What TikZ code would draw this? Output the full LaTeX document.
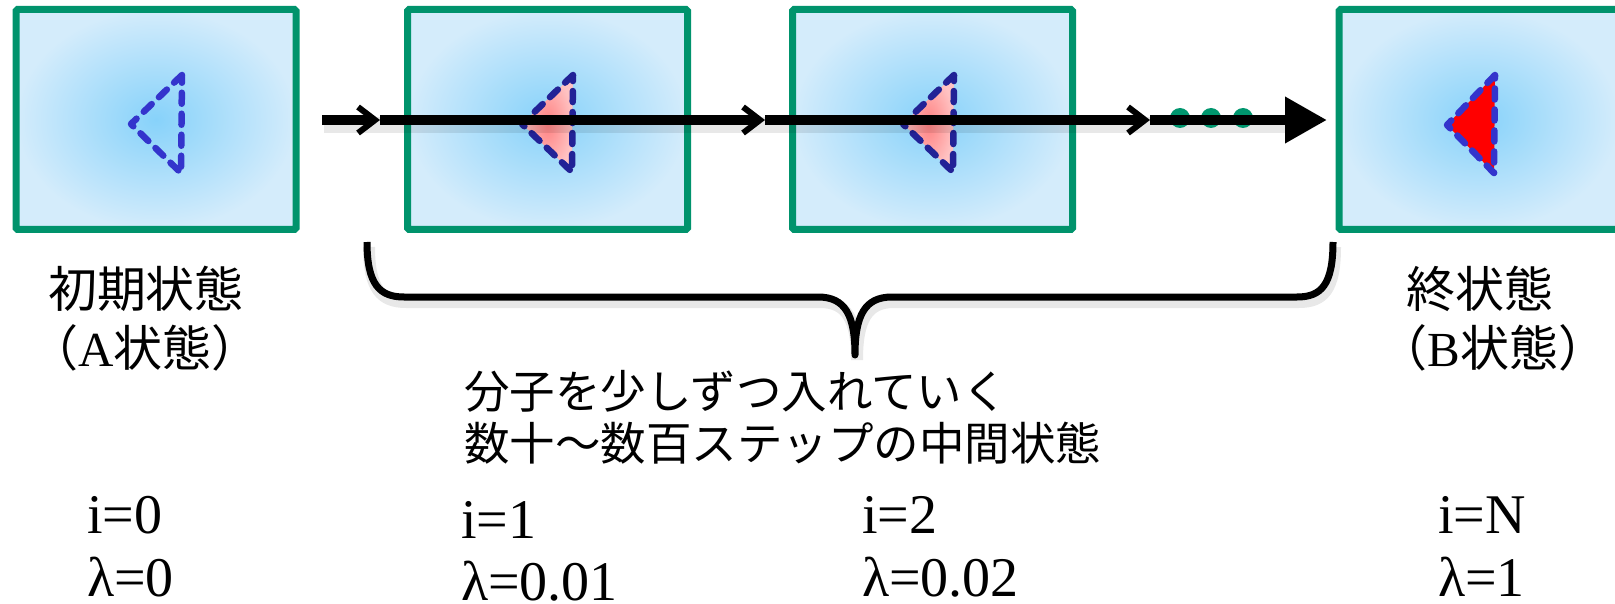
\documentclass[tikz,border=0pt]{standalone}
\usepackage{fontspec}
\setmainfont{Liberation Serif}
\newfontfamily\cjk{Noto Sans CJK JP}
\usetikzlibrary{arrows.meta}
\definecolor{boxgreen}{RGB}{0,147,108}
\definecolor{boxin}{RGB}{135,210,250}
\definecolor{boxout}{RGB}{212,236,251}
\definecolor{triblue}{RGB}{52,52,204}
\definecolor{trinavy}{RGB}{34,34,150}
\definecolor{pinkin}{RGB}{255,130,130}
\definecolor{pinkout}{RGB}{255,195,195}
\definecolor{dotgreen}{RGB}{0,150,110}
\tikzset{
  statebox/.style={draw=boxgreen, line width=7pt, inner color=boxin, outer color=boxout,
    minimum width=280pt, minimum height=220pt, inner sep=0pt, rounded corners=1.5pt},
  tri/.style={line width=6.5pt, dash pattern=on 11pt off 10pt, line join=round, line cap=round},
  flow/.style={line width=10pt, draw=black},
  barb/.style={-{Straight Barb[length=17pt,width=26pt,line width=6pt]}},
  shadowline/.style={draw=black, opacity=0.09, line width=16pt, transform canvas={shift={(2,5)}}},
  jplabel/.style={font=\cjk\fontsize{49}{58}\selectfont, inner sep=0pt},
  jptext/.style={font=\cjk\fontsize{45.5}{52}\selectfont, inner sep=0pt, anchor=west},
  num/.style={font=\fontsize{56}{64}\selectfont, inner sep=0pt, anchor=base west},
}
\begin{document}
\begin{tikzpicture}[x=1pt,y=-1pt]
\useasboundingbox (0,0) rectangle (1615,604);
\clip (0,0) rectangle (1615,604);

% boxes
\node[statebox] (b1) at (156,119.5) {};
\node[statebox] (b2) at (547.5,119.5) {};
\node[statebox] (b3) at (932.5,119.5) {};
\node[statebox] (b4) at (1479,119.5) {};

% triangles
\draw[tri, draw=triblue] (182,75) -- (131,124) -- (181,173) -- cycle;
\shade[inner color=pinkin, outer color=pinkout] (573,75) -- (522,124) -- (572,172) -- cycle;
\draw[tri, draw=trinavy] (573,75) -- (522,124) -- (572,172) -- cycle;
\shade[inner color=pinkin, outer color=pinkout] (954,75) -- (903,124) -- (953,172) -- cycle;
\draw[tri, draw=trinavy] (954,75) -- (903,124) -- (953,172) -- cycle;
\fill[red] (1495,75) -- (1447,125) -- (1494,173) -- cycle;
\draw[tri, draw=triblue] (1495,75) -- (1447,125) -- (1494,173) -- cycle;

% arrow
\coordinate (a0) at (322,120);
\coordinate (a1) at (380,120);
\coordinate (a2) at (765,120);
\coordinate (a3) at (1150,120);
\coordinate (a4) at (1327,120);
\draw[shadowline] (a0) -- (1290,120);
\fill[dotgreen] (1180,118) circle (10);
\fill[dotgreen] (1211,118) circle (10);
\fill[dotgreen] (1243,118) circle (10);
\draw[flow, barb] (a0) -- (a1);
\draw[flow, barb] (a1) -- (a2);
\draw[flow, barb] (a2) -- (a3);
\draw[flow, -{Triangle[length=42pt,width=44pt]}] (a3) -- (a4);

% brace
\coordinate (bl) at (367,242);
\coordinate (bm) at (855,355);
\coordinate (br) at (1333,242);
\draw[shadowline, line width=12pt]
  (bl) .. controls (367,285) and (380,297) .. (404,297) -- (818,297)
  .. controls (845,297) and (855,315) .. (bm)
  .. controls (855,315) and (865,297) .. (892,297) -- (1297,297)
  .. controls (1321,297) and (1333,285) .. (br);
\draw[line width=7pt, line join=round]
  (bl) .. controls (367,285) and (380,297) .. (404,297) -- (818,297)
  .. controls (845,297) and (855,315) .. (bm)
  .. controls (855,315) and (865,297) .. (892,297) -- (1297,297)
  .. controls (1321,297) and (1333,285) .. (br);

% labels
\node[jplabel] (t1) at (146,289) {初期状態};
\node[jplabel] (t1b) at (145,348) {（{\rmfamily A}状態）};
\node[jplabel] (t4) at (1480,289) {終状態};
\node[jplabel] (t4b) at (1493,348) {（{\rmfamily B}状態）};
\node[jptext] (m1) at (464,391) {分子を少しずつ入れていく};
\node[jptext] (m2) at (464,443) {数十～数百ステップの中間状態};

\node[num] (i0) at (87,533) {i=0};
\node[num] (l0) at (87,596) {λ=0};
\node[num] (i1) at (461,538) {i=1};
\node[num] (l1) at (461,600) {λ=0.01};
\node[num] (i2) at (862,533) {i=2};
\node[num] (l2) at (862,596) {λ=0.02};
\node[num] (iN) at (1438,533) {i=N};
\node[num] (lN) at (1438,596) {λ=1};
\end{tikzpicture}
\end{document}
